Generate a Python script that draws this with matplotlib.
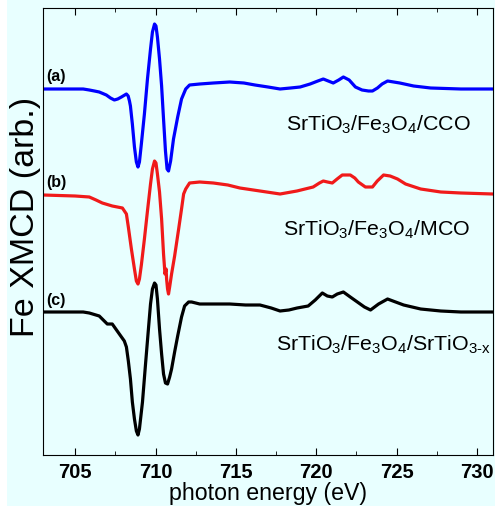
import numpy as np
import matplotlib
matplotlib.use('Agg')
import matplotlib.pyplot as plt
from matplotlib.patches import Rectangle
from matplotlib.ticker import MultipleLocator

plt.rcParams['font.family'] = ['Liberation Sans', 'DejaVu Sans']
plt.rcParams['mathtext.fontset'] = 'custom'
plt.rcParams['mathtext.rm'] = 'Liberation Sans'
plt.rcParams['mathtext.default'] = 'regular'

# Fe L3 XMCD spektra (jednostki dowolne)
e_a = [703.0, 705.5, 705.88, 706.2, 706.5, 706.94, 707.2, 707.44, 707.65, 707.88, 708.19, 708.3,
       708.38, 708.44, 708.56, 708.69, 708.81, 708.91, 709.0, 709.12, 709.31, 709.5, 709.69,
       709.81, 709.94, 710.03, 710.12, 710.25, 710.38, 710.5, 710.62, 710.72, 710.81, 710.94,
       711.12, 711.38, 711.62, 711.88, 712.12, 712.75, 713.6, 714.62, 715.5, 716.19, 717.0,
       717.75, 718.4, 719.0, 719.62, 720.1, 720.44, 720.75, 721.06, 721.4, 721.69, 722.05,
       722.44, 722.85, 723.25, 723.5, 723.81, 724.1, 724.44, 725.2, 726.06, 727.12, 729.0, 731.0]
xmcd_a = [0, 0, -1, -2, -3, -6, -9, -11, -10, -8, -5, -7,
          -12, -17, -35, -58, -73, -78, -73, -55, -25, 10, 40,
          57, 65, 63, 52, 30, 3, -30, -62, -80, -82, -72,
          -50, -28, -10, 0, 4, 5, 6, 7, 6, 4, 2,
          0, 1, 2, 5, 8, 10, 8, 6, 9, 12, 9,
          2, -1, -2, -2, 1, 5, 8, 6, 3, 1, 0, 0]

e_b = [703.0, 705.0, 705.88, 706.3, 706.69, 707.31, 707.94, 708.19, 708.31, 708.5, 708.69,
       708.81, 708.91, 709.0, 709.12, 709.31, 709.5, 709.69, 709.81, 709.94, 710.03, 710.12,
       710.25, 710.38, 710.5, 710.59, 710.66, 710.69, 710.75, 710.81, 710.88, 711.0, 711.19,
       711.44, 711.62, 711.75, 711.88, 712.12, 712.75, 713.6, 714.5, 715.25, 716.5, 717.75,
       718.8, 719.81, 720.2, 720.44, 720.7, 721.0, 721.3, 721.62, 722.12, 722.4, 722.62,
       723.06, 723.5, 723.8, 724.19, 724.6, 725.06, 725.56, 726.5, 727.75, 729.0, 731.0]
xmcd_b = [-1, -2, -3, -6, -9, -12, -14, -20, -33, -55, -75,
          -87, -90, -85, -71, -45, -17, 10, 25, 33, 31, 20,
          2, -25, -60, -80, -75, -85, -95, -100, -93, -80, -62,
          -35, -15, 0, 5, 11, 12, 11, 9, 6, 3, 0,
          3, 7, 11, 13, 12, 11, 15, 19, 19, 16, 12,
          7, 7, 13, 19, 18, 15, 10, 5, 2, 1, 0]

e_c = [703.0, 705.5, 705.88, 706.5, 707.0, 707.31, 707.75, 708.06, 708.19, 708.31, 708.44,
       708.56, 708.69, 708.81, 708.91, 709.0, 709.19, 709.38, 709.56, 709.69, 709.81,
       709.94, 710.03, 710.12, 710.25, 710.38, 710.5, 710.62, 710.75, 710.88, 711.0,
       711.19, 711.38, 711.62, 711.81, 712.06, 712.25, 712.75, 713.6, 714.62, 715.6, 716.5,
       717.2, 717.75, 718.3, 718.81, 719.5, 719.94, 720.38, 720.69, 721.0, 721.31, 721.69,
       722.12, 722.56, 723.0, 723.38, 723.88, 724.44, 724.94, 725.44, 726.5, 727.75, 729.0, 731.0]
xmcd_c = [0, 0, -1, -4, -12, -12, -22, -29, -35, -49, -67,
          -90, -107, -119, -123, -117, -90, -52, -17, 8, 23,
          29, 27, 13, -17, -42, -62, -71, -72, -65, -57,
          -40, -24, -5, 6, 10, 10, 8, 8, 8, 7, 7,
          4, 1, 2, 4, 6, 12, 19, 16, 15, 18, 20,
          15, 10, 5, 2, 8, 13, 10, 7, 3, 1, 0, 0]

offsets = [0, -105, -223]
colors = ['#0000ff', '#f01a1a', 'black']
tags = ['(a)', '(b)', '(c)']
tag_y = [13, -92, -211]
samples = [r'SrTiO$_3$/Fe$_3$O$_4$/CCO',
           r'SrTiO$_3$/Fe$_3$O$_4$/MCO',
           r'SrTiO$_3$/Fe$_3$O$_4$/SrTiO$_{3\text{-}x}$']
sample_x = [729.6, 729.6, 730.9]
sample_y = [-35, -140, -255]

bg = '#e8ffff'
fig = plt.figure(figsize=(4.95, 5.1), dpi=100, facecolor='white')
fig.patches.append(Rectangle((7 / 495, 3 / 510), 1, 1, transform=fig.transFigure,
                             facecolor=bg, edgecolor='none', zorder=-10))
ax = fig.add_axes([43 / 495, 54 / 510, 450 / 495, 447 / 510])
ax.set_facecolor(bg)

for e, s, off, col in zip([e_a, e_b, e_c], [xmcd_a, xmcd_b, xmcd_c], offsets, colors):
    ax.plot(e, np.array(s) + off, color=col, lw=2.3, solid_joinstyle='round')

for ty, t in zip(tag_y, tags):
    ax.text(703.2, ty, t, fontsize=11.5, fontweight='bold', ha='left', va='center')
for sx, sy, s in zip(sample_x, sample_y, samples):
    ax.text(sx, sy, s, fontsize=15.4, ha='right', va='center')

ax.set_xlim(703, 731)
ax.set_ylim(-366, 81)
ax.set_yticks([])
ax.xaxis.set_major_locator(MultipleLocator(5))
ax.xaxis.set_minor_locator(MultipleLocator(2.5))
ax.tick_params(axis='x', which='both', direction='in', top=True, bottom=True)
ax.tick_params(axis='x', which='major', length=5, labelsize=14.5, pad=5)
ax.tick_params(axis='x', which='minor', length=3)
for lab in ax.get_xticklabels():
    lab.set_fontweight('bold')
ax.set_xlabel('photon energy (eV)', fontsize=16.7, labelpad=0)
ax.set_ylabel('Fe XMCD (arb.)', fontsize=24.5)
ax.yaxis.set_label_coords(-0.004, 0.535)

plt.savefig('out.png', dpi=100, facecolor=fig.get_facecolor())
